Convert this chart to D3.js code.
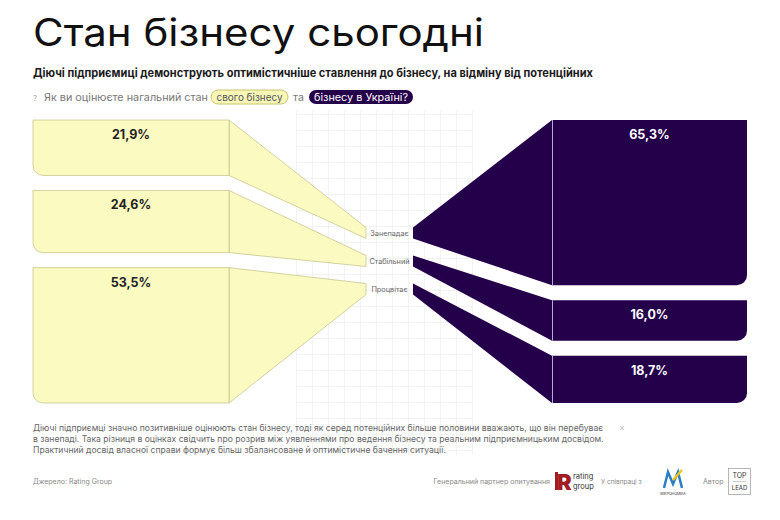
<!DOCTYPE html>
<html>
<head>
<meta charset="utf-8">
<script src="https://cdn.jsdelivr.net/npm/d3@7"></script>
<style>
  body { margin: 0; background: #fff; }
  svg { display: block; font-family: Inter, "Noto Sans", sans-serif; }
</style>
</head>
<body>
<svg id="chart" width="780" height="520"></svg>
<script>
(function(){
  // Data
  var categories = ['Занепадає', 'Стабільний', 'Процвітає'];
  var ownBusiness = [21.9, 24.6, 53.5];      // свого бізнесу (діючі)
  var countryBusiness = [65.3, 16.0, 18.7];  // бізнесу в Україні (потенційні)
  var valueLabels = function(v) { return d3.format('.1f')(v).replace('.', ',') + '%'; };

  var svg = d3.select('#chart');

  var YELLOW = '#fbfac0', YELLOW_LINE = '#c9c78f';
  var PURPLE = '#25004a', PURPLE_LINE = '#b7a8d6';

  // faint background grid in the middle
  var grid = svg.append('g').attr('stroke', '#f2f2f2').attr('stroke-width', 1);
  d3.range(296, 480, 16).forEach(function(x) {
    grid.append('line').attr('x1', x + .5).attr('x2', x + .5).attr('y1', 110).attr('y2', 455);
  });
  d3.range(114, 456, 16).forEach(function(y) {
    grid.append('line').attr('x1', 296).attr('x2', 472).attr('y1', y + .5).attr('y2', y + .5);
  });

  // Header
  svg.append('text')
    .attr('x', 33).attr('y', 46)
    .attr('font-size', 38).attr('font-weight', 400).attr('fill', '#111')
    .attr('textLength', 451).attr('lengthAdjust', 'spacingAndGlyphs')
    .text('Стан бізнесу сьогодні');

  svg.append('text')
    .attr('x', 33).attr('y', 77)
    .attr('font-size', 11.5).attr('font-weight', 700).attr('fill', '#1a1a1a')
    .attr('textLength', 560).attr('lengthAdjust', 'spacingAndGlyphs')
    .text('Діючі підприємиці демонструють оптимістичніше ставлення до бізнесу, на відміну від потенційних');

  var q = svg.append('g').attr('font-size', 10.5).attr('fill', '#777');
  q.append('text').attr('x', 33).attr('y', 101).attr('font-size', 8).attr('fill', '#aaa').text('?');
  q.append('text').attr('x', 44).attr('y', 101)
    .attr('textLength', 164).attr('lengthAdjust', 'spacingAndGlyphs')
    .text('Як ви оцінюєте нагальний стан');
  q.append('rect').attr('x', 211).attr('y', 90).attr('width', 77).attr('height', 14).attr('rx', 7)
    .attr('fill', '#f8f7b8').attr('stroke', '#c8c46a').attr('stroke-width', 1);
  q.append('text').attr('x', 249.5).attr('y', 101).attr('text-anchor', 'middle').attr('fill', '#555')
    .attr('textLength', 66).attr('lengthAdjust', 'spacingAndGlyphs')
    .text('свого бізнесу');
  q.append('text').attr('x', 293).attr('y', 101).text('та');
  q.append('rect').attr('x', 309).attr('y', 90).attr('width', 104).attr('height', 14).attr('rx', 7)
    .attr('fill', PURPLE);
  q.append('text').attr('x', 361).attr('y', 101).attr('text-anchor', 'middle').attr('fill', '#fff')
    .attr('textLength', 94).attr('lengthAdjust', 'spacingAndGlyphs')
    .text('бізнесу в Україні?');

  // Scales
  var top = 120, bottom = 403, gap = 15;
  var h = d3.scaleLinear().domain([0, 100]).range([0, bottom - top - gap * (categories.length - 1)]);
  var tip = d3.scalePoint().domain(categories).range([233, 289]);
  var tipH = 11;

  function stack(values) {
    var y = top;
    return values.map(function(v, i) {
      var d = {cat: categories[i], value: v, y0: y, y1: y + h(v)};
      y = d.y1 + gap;
      return d;
    });
  }

  var left = stack(ownBusiness), right = stack(countryBusiness);

  var L = {x0: 33, x1: 229, tipX: 366};
  var R = {x0: 552, x1: 747, tipX: 413};
  var r = 10;

  // left funnel
  var gl = svg.append('g');
  gl.selectAll('path.funnel').data(left).enter().append('path')
    .attr('class', 'funnel')
    .attr('d', function(d) {
      var t = tip(d.cat);
      return 'M' + L.x1 + ',' + d.y0 + 'L' + L.tipX + ',' + (t - tipH / 2) + 'L' + L.tipX + ',' + (t + tipH / 2) +
        'L' + L.x1 + ',' + d.y1 + 'Z';
    })
    .attr('fill', YELLOW).attr('stroke', YELLOW_LINE).attr('stroke-width', 0.8);
  gl.selectAll('path.block').data(left).enter().append('path')
    .attr('class', 'block')
    .attr('d', function(d) {
      return 'M' + L.x0 + ',' + d.y0 + 'H' + L.x1 + 'V' + d.y1 + 'H' + (L.x0 + r) +
        'A' + r + ',' + r + ' 0 0 1 ' + L.x0 + ',' + (d.y1 - r) + 'Z';
    })
    .attr('fill', YELLOW).attr('stroke', YELLOW_LINE).attr('stroke-width', 0.8);
  gl.selectAll('text').data(left).enter().append('text')
    .attr('x', (L.x0 + L.x1) / 2).attr('y', function(d) { return d.y0 + 19; })
    .attr('text-anchor', 'middle').attr('font-size', 12.5).attr('font-weight', 700).attr('fill', '#222')
    .text(function(d) { return valueLabels(d.value); });

  // right funnel
  var gr = svg.append('g');
  gr.selectAll('path.funnel').data(right).enter().append('path')
    .attr('class', 'funnel')
    .attr('d', function(d) {
      var t = tip(d.cat);
      return 'M' + R.x0 + ',' + d.y0 + 'L' + R.tipX + ',' + (t - tipH / 2) + 'L' + R.tipX + ',' + (t + tipH / 2) +
        'L' + R.x0 + ',' + d.y1 + 'Z';
    })
    .attr('fill', PURPLE);
  gr.selectAll('path.block').data(right).enter().append('path')
    .attr('class', 'block')
    .attr('d', function(d) {
      return 'M' + R.x0 + ',' + d.y0 + 'H' + R.x1 + 'V' + (d.y1 - r) +
        'A' + r + ',' + r + ' 0 0 1 ' + (R.x1 - r) + ',' + d.y1 + 'H' + R.x0 + 'Z';
    })
    .attr('fill', PURPLE);
  gr.selectAll('line').data(right).enter().append('line')
    .attr('x1', R.x0 + .5).attr('x2', R.x0 + .5)
    .attr('y1', function(d) { return d.y0; }).attr('y2', function(d) { return d.y1; })
    .attr('stroke', PURPLE_LINE).attr('stroke-width', 1);
  gr.selectAll('text').data(right).enter().append('text')
    .attr('x', (R.x0 + R.x1) / 2).attr('y', function(d) { return d.y0 + 19; })
    .attr('text-anchor', 'middle').attr('font-size', 12.5).attr('font-weight', 700).attr('fill', '#fff')
    .text(function(d) { return valueLabels(d.value); });

  // category labels
  svg.append('g').selectAll('text').data(categories).enter().append('text')
    .attr('x', 389.5).attr('y', function(d) { return tip(d) + 3; })
    .attr('text-anchor', 'middle').attr('font-size', 7.3).attr('fill', '#666')
    .text(function(d) { return d; });

  // commentary
  var note = [
    'Діючі підприємці значно позитивніше оцінюють стан бізнесу, тоді як серед потенційних більше половини вважають, що він перебуває',
    'в занепаді. Така різниця в оцінках свідчить про розрив між уявленнями про ведення бізнесу та реальним підприємницьким досвідом.',
    'Практичний досвід власної справи формує більш збалансоване й оптимістичне бачення ситуації.'
  ];
  svg.append('g').selectAll('text').data(note).enter().append('text')
    .attr('x', 33).attr('y', function(d, i) { return 431 + i * 11; })
    .attr('font-size', 8.6).attr('fill', '#666')
    .text(function(d) { return d; });
  svg.append('text').attr('x', 622).attr('y', 431).attr('font-size', 9).attr('fill', '#bbb')
    .attr('text-anchor', 'middle').text('×');

  // footer
  var f = svg.append('g').attr('font-size', 7).attr('fill', '#888');
  f.append('text').attr('x', 33).attr('y', 484).text('Джерело: Rating Group');
  f.append('text').attr('x', 550).attr('y', 484).attr('text-anchor', 'end').text('Генеральний партнер опитування');
  f.append('text').attr('x', 557).attr('y', 490).attr('font-size', 22).attr('font-weight', 900)
    .attr('fill', '#a01d26').text('R');
  f.append('rect').attr('x', 555).attr('y', 472).attr('width', 3).attr('height', 18).attr('fill', '#a01d26');
  f.append('text').attr('x', 573).attr('y', 479).attr('font-size', 7.5).attr('fill', '#333').text('rating');
  f.append('text').attr('x', 573).attr('y', 489).attr('font-size', 7.5).attr('fill', '#333').text('group');
  f.append('text').attr('x', 601).attr('y', 484).attr('font-size', 6.5).text('У співпраці з');
  f.append('path').attr('d', 'M664,488 L668,472 L673,484 L678,472 L682,488')
    .attr('fill', 'none').attr('stroke', '#2a7fc4').attr('stroke-width', 2.5);
  f.append('path').attr('d', 'M673,480 L682,470').attr('stroke', '#f0c419').attr('stroke-width', 2.5);
  f.append('text').attr('x', 673).attr('y', 495).attr('font-size', 3.5).attr('fill', '#333')
    .attr('text-anchor', 'middle').text('МІКРОНОМІКА');
  f.append('text').attr('x', 703).attr('y', 484).text('Автор');
  f.append('rect').attr('x', 728.5).attr('y', 468.5).attr('width', 22).attr('height', 26)
    .attr('fill', 'none').attr('stroke', '#999').attr('stroke-width', 0.7);
  f.append('text').attr('x', 739.5).attr('y', 478).attr('text-anchor', 'middle').attr('font-size', 7)
    .attr('fill', '#333').text('TOP');
  f.append('line').attr('x1', 733).attr('x2', 746).attr('y1', 481.5).attr('y2', 481.5).attr('stroke', '#999').attr('stroke-width', 0.5);
  f.append('text').attr('x', 739.5).attr('y', 490).attr('text-anchor', 'middle').attr('font-size', 6)
    .attr('fill', '#333').text('LEAD');
})();
</script>
</body>
</html>
